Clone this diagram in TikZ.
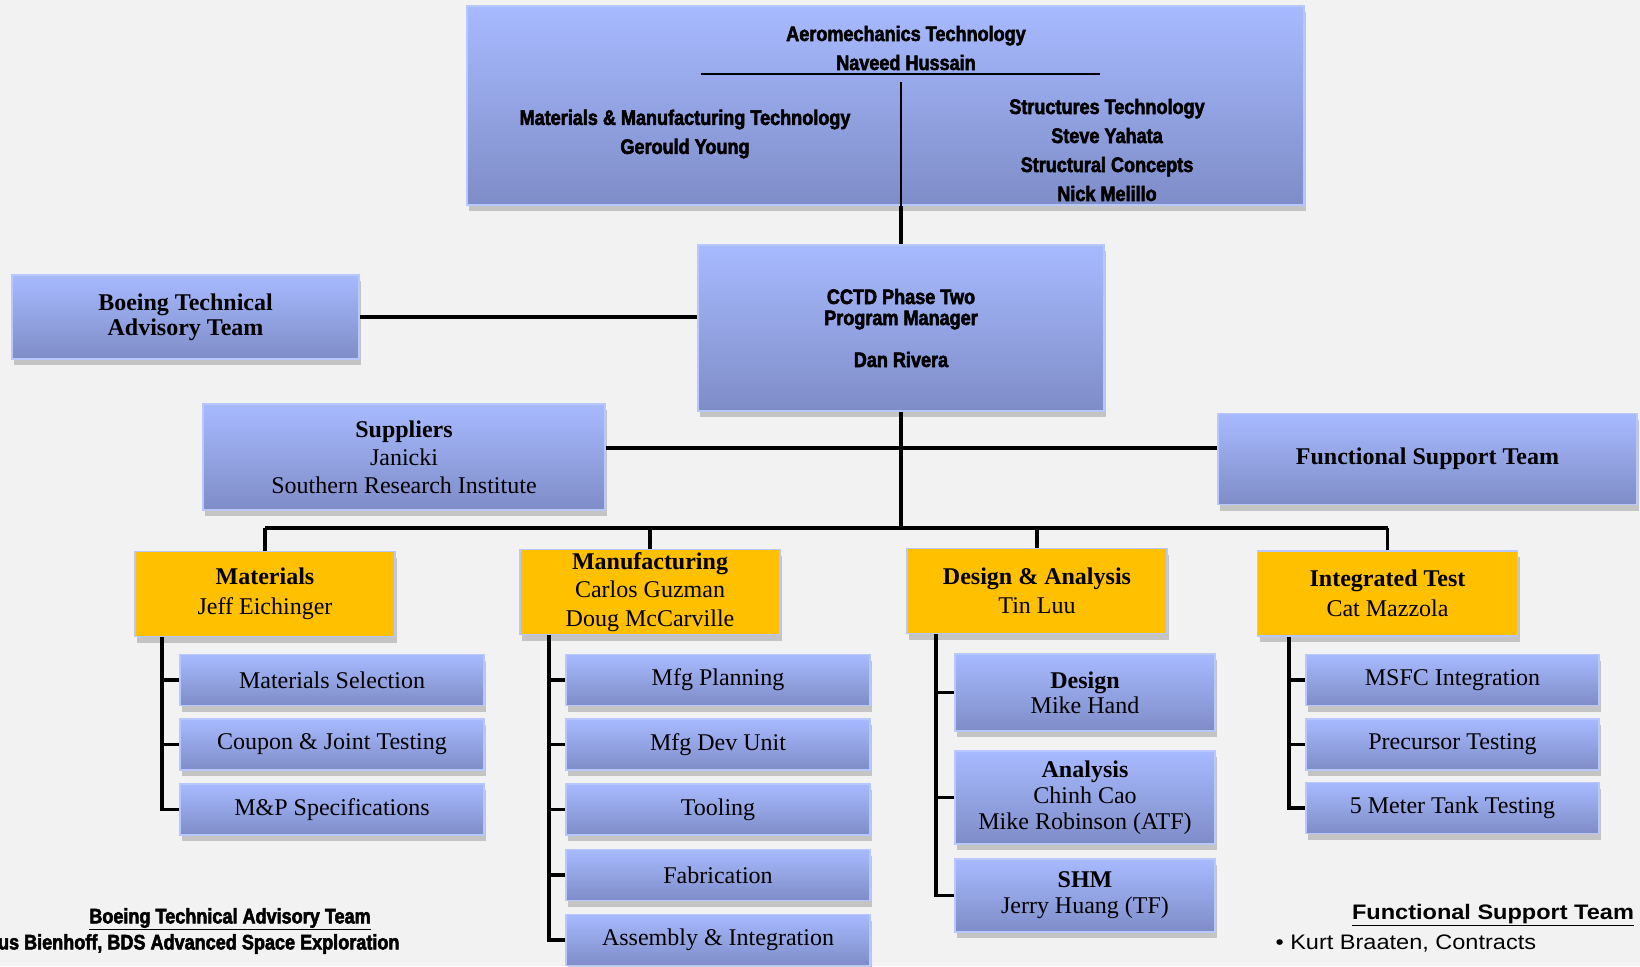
\documentclass[tikz,border=0pt]{standalone}
\usepackage{fontspec}
\setmainfont{Liberation Serif}
\newfontfamily\headfont[FakeStretch=0.86,FakeBold=2.5]{Liberation Sans Bold}
\newfontfamily\arialfont[FakeStretch=1.12]{Liberation Sans}
\usetikzlibrary{shadows}
\definecolor{slidebg}{RGB}{242,242,242}
\definecolor{periwinkle}{RGB}{168,186,255}
\definecolor{dusk}{RGB}{126,141,200}
\definecolor{boxedge}{RGB}{184,200,255}
\definecolor{amber}{RGB}{255,192,0}

\tikzset{
  boxshadow/.style={drop shadow={shadow xshift=2pt, shadow yshift=-6pt, fill=black!45, opacity=.45}},
  bluebox/.style={draw=boxedge, line width=1.2pt, top color=periwinkle, bottom color=dusk,
                  boxshadow, align=center, inner sep=0pt, font=\fontsize{24}{27}\selectfont},
  goldbox/.style={draw=boxedge, line width=1.5pt, fill=amber,
                  boxshadow, align=center, inner sep=0pt, font=\fontsize{24}{27}\selectfont,
                  minimum width=260pt, minimum height=85pt},
  matsub/.style={bluebox, minimum width=304pt, minimum height=51pt},
  dasub/.style={bluebox, minimum width=260pt},
  itsub/.style={bluebox, minimum width=293pt, minimum height=51pt},
  headtxt/.style={align=center, font=\headfont\fontsize{21}{29}\selectfont},
  conn/.style={line width=3.4pt},
  busline/.style={line width=4.5pt},
  hairline/.style={line width=1.3pt}
}

\begin{document}
\begin{tikzpicture}[x=1pt, y=-1pt]
  \fill[slidebg] (0,0) rectangle (1640,966);
  \useasboundingbox (0,0) rectangle (1640,966);

  % technology leads
  \node[bluebox, minimum width=837pt, minimum height=199pt] (tech) at (885.5,105.5) {};
  \node[headtxt] (aero)   at (906,48)    {Aeromechanics Technology\\Naveed Hussain};
  \node[headtxt] (mmt)    at (685,134)   {Materials \& Manufacturing Technology\\Gerould Young};
  \node[headtxt] (struct) at (1107,150)  {Structures Technology\\Steve Yahata\\Structural Concepts\\Nick Melillo};
  \coordinate (ruleL) at (701,74);
  \coordinate (ruleR) at (1100,74);
  \coordinate (split) at (901,82);
  \draw[hairline] (ruleL) -- (ruleR);

  % program manager and side teams
  \node[bluebox, minimum width=406pt, minimum height=166pt, font=\headfont\fontsize{21}{21}\selectfont]
       (pm) at (901,328) {CCTD Phase Two\\Program Manager\\[21pt]Dan Rivera};
  \node[bluebox, minimum width=347pt, minimum height=84pt, font=\bfseries\fontsize{24}{25}\selectfont]
       (btat) at (185.5,317) {Boeing Technical\\Advisory Team};
  \node[bluebox, minimum width=402pt, minimum height=106pt, font=\fontsize{24}{28}\selectfont]
       (supp) at (404,457) {\textbf{Suppliers}\\Janicki\\Southern Research Institute};
  \node[bluebox, minimum width=419pt, minimum height=91pt, font=\bfseries\fontsize{24}{27}\selectfont]
       (fst) at (1427.5,459) {Functional Support Team};

  \draw[hairline] (split) -- (split |- tech.south);
  \draw[conn] (tech.south -| pm.north) -- (pm.north);
  \draw[conn] (btat.east) -- (btat.east -| pm.west);
  \coordinate (side) at (901,448);
  \draw[conn] (side -| supp.east) -- (side -| fst.west);

  % work areas
  \node[goldbox] (mat)   at (265,594)    {\textbf{Materials}\\[3pt]Jeff Eichinger};
  \node[goldbox, font=\fontsize{24}{28.5}\selectfont]
        (mfg)   at (650,592)    {\textbf{Manufacturing}\\Carlos Guzman\\Doug McCarville};
  \node[goldbox] (da)    at (1037,591)   {\textbf{Design \& Analysis}\\[2pt]Tin Luu};
  \node[goldbox] (integ) at (1387.5,593.5) {\textbf{Integrated Test}\\[3pt]Cat Mazzola};

  \coordinate (bus) at (901,528);
  \draw[conn] (pm.south) -- (pm.south |- bus);
  \draw[busline] (bus -| mat.north) -- (bus -| integ.north);
  \foreach \lead in {mat,mfg,da,integ}
    \draw[conn] (bus -| \lead.north) -- (\lead.north);

  % materials tasks
  \node[matsub] (msel) at (332,680) {Materials Selection};
  \node[matsub] (cjt)  at (332,744.5) {Coupon \& Joint Testing};
  \node[matsub] (mps)  at (332,809.5) {M\&P Specifications};

  % manufacturing tasks
  \node[matsub] (mplan) at (718,680)   {Mfg Planning};
  \node[matsub] (mdu)   at (718,744.5) {Mfg Dev Unit};
  \node[matsub] (tool)  at (718,809.5) {Tooling};
  \node[matsub] (fab)   at (718,875)   {Fabrication};
  \node[matsub] (ai)    at (718,940)   {Assembly \& Integration};

  % design & analysis tasks
  \node[dasub, minimum height=77pt, font=\fontsize{24}{25}\selectfont]
        (dsgn) at (1085,692.5) {\textbf{Design}\\Mike Hand};
  \node[dasub, minimum height=93pt, font=\fontsize{24}{26}\selectfont]
        (anl)  at (1085,797.5) {\textbf{Analysis}\\Chinh Cao\\Mike Robinson (ATF)};
  \node[dasub, minimum height=73pt, font=\fontsize{24}{26}\selectfont]
        (shm)  at (1085,895.5) {\textbf{SHM}\\Jerry Huang (TF)};

  % integrated test tasks
  \node[itsub] (msfc) at (1452.5,680)   {MSFC Integration};
  \node[itsub] (prec) at (1452.5,744.5) {Precursor Testing};
  \node[itsub] (tank) at (1452.5,808)   {5 Meter Tank Testing};

  % brackets
  \coordinate (matspine) at (162,0);
  \coordinate (mfgspine) at (549,0);
  \coordinate (daspine)  at (936,0);
  \coordinate (itspine)  at (1289,0);
  \draw[conn] (mat.south -| matspine) |- (mps.west);
  \foreach \sub in {msel,cjt}
    \draw[conn] (matspine |- \sub.west) -- (\sub.west);
  \draw[conn] (mfg.south -| mfgspine) |- (ai.west);
  \foreach \sub in {mplan,mdu,tool,fab}
    \draw[conn] (mfgspine |- \sub.west) -- (\sub.west);
  \draw[conn] (da.south -| daspine) |- (shm.west);
  \foreach \sub in {dsgn,anl}
    \draw[conn] (daspine |- \sub.west) -- (\sub.west);
  \draw[conn] (integ.south -| itspine) |- (tank.west);
  \foreach \sub in {msfc,prec}
    \draw[conn] (itspine |- \sub.west) -- (\sub.west);

  % member notes
  \node[font=\headfont\fontsize{21}{21}\selectfont] (btatnote) at (230,919)
       {\underline{Boeing Technical Advisory Team}};
  \node[anchor=east, font=\headfont\fontsize{21}{21}\selectfont] (btatname) at (403,944)
       {us Bienhoff, BDS Advanced Space Exploration};
  \node[font=\arialfont\bfseries\fontsize{21}{21}\selectfont] (fstnote) at (1493,915)
       {\underline{Functional Support Team}};
  \node[anchor=west, font=\arialfont\fontsize{21}{21}\selectfont] (fstname) at (1272,943)
       {\textbullet\ Kurt Braaten, Contracts};
\end{tikzpicture}
\end{document}
